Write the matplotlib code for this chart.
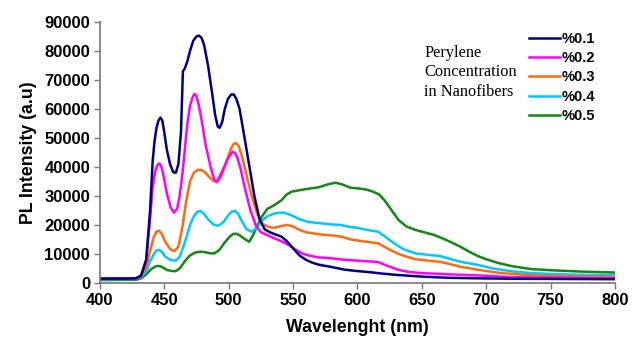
import numpy as np
import matplotlib
matplotlib.use("Agg")
import matplotlib.pyplot as plt
from matplotlib.lines import Line2D

# wavelength (nm) / intensity (a.u), one pair of lists per concentration
wl_01 = [400, 420, 428, 432, 436, 439, 441, 442.5, 444, 445.5, 447, 448.5, 450, 452, 454.5, 457, 459,
         461, 463, 464.5, 466, 468, 470, 472.5, 475, 477, 479, 481, 484, 487, 489.5, 491.5, 493, 495,
         497, 499.5, 502, 504, 506, 508.5, 512, 516, 520, 524, 528, 532, 536, 541, 545, 550, 555, 560,
         565, 570, 580, 590, 600, 610, 620, 630, 640, 650, 670, 694, 720, 750, 800]
pl_01 = [1500, 1500, 1600, 2500, 8000, 25000, 42000, 49000, 53500, 56000, 57000, 56000, 52000, 46000,
         41000, 38200, 38000, 41000, 52000, 73000, 74000, 76500, 80000, 83500, 85000, 85300, 84500, 82000,
         75000, 66000, 58000, 54000, 53500, 55500, 60000, 63500, 65000, 65000, 63500, 60000, 51000, 40500,
         30000, 22000, 18500, 17500, 16800, 16000, 14500, 12000, 9500, 8000, 7000, 6300, 5500, 4600, 4100,
         3700, 3200, 2800, 2500, 2200, 1800, 1600, 1450, 1400, 1300]

wl_02 = [400, 428, 432, 436, 439, 441, 443, 444.5, 446, 447.5, 449, 452, 455, 457.5, 460, 462, 464, 466,
         468, 470, 472, 473.5, 475, 477, 479.5, 482, 486, 489, 491, 494, 497, 499, 501, 503, 505, 507,
         509.5, 513, 517, 521, 525, 530, 535, 542, 547, 552, 557, 562, 570, 580, 590, 600, 610, 616, 624,
         632, 640, 650, 670, 694, 720, 750, 800]
pl_02 = [1500, 1600, 2500, 8000, 22000, 33000, 38500, 40500, 41200, 40500, 38000, 31000, 26000, 24300,
         25500, 30000, 37000, 46000, 55000, 61000, 64000, 65200, 64500, 61000, 55000, 48000, 40000, 35500,
         35000, 37500, 40500, 42500, 44000, 45200, 44800, 43000, 39000, 32000, 25000, 20000, 17500, 16500,
         15500, 14200, 13000, 11500, 10200, 9500, 8800, 8500, 8000, 7700, 7400, 7200, 5800, 4500, 3800,
         3400, 3000, 2600, 2000, 1800, 1600]

wl_03 = [400, 428, 432, 436, 439, 442, 444, 446, 448, 451, 455, 458, 461, 464, 467, 470, 473, 476, 479,
         482, 486, 489, 491, 494, 497, 500, 502, 504, 506, 508, 510.5, 514, 518, 522, 526, 530, 535, 540,
         545, 550, 555, 560, 570, 580, 587, 595, 605, 616, 625, 632, 638, 645, 655, 664, 672, 680, 694,
         710, 730, 750, 775, 800]
pl_03 = [1500, 1600, 2300, 5500, 11000, 16000, 17700, 18000, 17000, 14000, 11500, 11000, 12500, 19000,
         28000, 35000, 38000, 39000, 39000, 38000, 36000, 35000, 34700, 36500, 40000, 44000, 46500, 48000,
         48200, 47000, 43500, 37000, 30000, 24000, 20500, 19500, 19000, 19500, 20000, 19500, 18300, 17500,
         16800, 16400, 16000, 15000, 14300, 13700, 11500, 10000, 9100, 8200, 7700, 7300, 6500, 5600, 4500,
         3500, 2800, 2400, 2200, 2100]

wl_04 = [400, 428, 432, 436, 439, 442, 444, 446, 448, 451, 455, 459, 462, 466, 470, 473, 475.5, 478,
         480.5, 484, 488, 492, 496, 500, 502.5, 505, 507.5, 510, 514, 518, 522, 526, 530, 536, 542, 548,
         555, 562, 571, 580, 587, 593, 600, 607, 616, 623, 630, 636, 645, 655, 664, 672, 680, 694, 705,
         720, 735, 750, 775, 800]
pl_04 = [1300, 1400, 2000, 4000, 7500, 10000, 11200, 11400, 10800, 9000, 7900, 7700, 9000, 14000, 20000,
         23000, 24500, 24800, 24000, 22000, 20200, 19700, 21000, 23500, 24600, 24800, 23800, 21500, 18500,
         17700, 19000, 21500, 23000, 24000, 24300, 23500, 22000, 21000, 20600, 20200, 20000, 19400, 19000,
         18300, 17700, 15500, 13200, 11600, 10200, 9700, 9300, 8300, 7300, 6200, 5000, 4000, 3400, 3100,
         2800, 2700]

wl_05 = [400, 428, 432, 436, 440, 443, 445, 448, 452, 456, 459, 462, 466, 470, 474, 478, 482, 486, 489,
         493, 497, 501, 503.5, 506, 509, 513, 516, 519, 522, 526, 530, 536, 541, 545, 549, 555, 562, 570,
         577, 583, 588, 595, 601, 607, 612, 617, 622, 627, 632, 638, 645, 650, 660, 667, 672, 680, 688,
         694, 700, 710, 720, 735, 750, 775, 800]
pl_05 = [1000, 1100, 1600, 3000, 4800, 5700, 5900, 5600, 4500, 4100, 4100, 5000, 7500, 9500, 10500,
         10800, 10600, 10200, 10200, 11500, 14000, 16000, 16900, 17000, 16300, 15000, 14200, 16500, 19500,
         23000, 25500, 27000, 28500, 30500, 31500, 32000, 32500, 33000, 34000, 34600, 34000, 32800, 32600,
         32200, 31500, 30500, 28000, 24800, 21700, 19500, 18300, 17700, 16500, 15200, 14200, 12500, 10500,
         9200, 8200, 6800, 5800, 4800, 4400, 3900, 3600]

labels = ["%0.1", "%0.2", "%0.3", "%0.4", "%0.5"]
colors = ["#000080", "#FF00FF", "#FF6A10", "#00C8FF", "#118811"]
series = [(wl_01, pl_01), (wl_02, pl_02), (wl_03, pl_03), (wl_04, pl_04), (wl_05, pl_05)]

fig = plt.figure(figsize=(6.32, 3.43), dpi=100)
ax = fig.add_axes([0.158, 0.175, 0.815, 0.761])

# later series drawn first so the 0.1 curve sits on top, like the original
for (x, y), c in reversed(list(zip(series, colors))):
    ax.plot(x, y, color=c, lw=1.8, solid_joinstyle="round")

ax.set_xlim(400, 800)
ax.set_ylim(0, 90000)
ax.set_xticks(np.arange(400, 801, 50))
ax.set_yticks(np.arange(0, 90001, 10000))

tick_font = {"family": "Liberation Sans", "weight": "bold", "size": 12}
ax.set_xticklabels([str(v) for v in range(400, 801, 50)], fontdict=tick_font)
ax.set_yticklabels([str(v) for v in range(0, 90001, 10000)], fontdict=tick_font)

for s in ["top", "right"]:
    ax.spines[s].set_visible(False)
for s in ["left", "bottom"]:
    ax.spines[s].set_color("#777777")
    ax.spines[s].set_linewidth(1.2)
ax.tick_params(direction="out", length=4, width=1, color="#777777", pad=3)

label_font = {"family": "Liberation Sans", "weight": "bold", "size": 12.8}
ax.set_xlabel("Wavelenght (nm)", fontdict=label_font, labelpad=8)
ax.set_ylabel("PL Intensity (a.u)", fontdict=label_font, labelpad=5)

handles = [Line2D([0], [0], color=c, lw=1.8) for c in colors]
leg = ax.legend(handles, labels, loc="upper left", bbox_to_anchor=(0.808, 1.012),
                frameon=False, handlelength=2.1, handletextpad=0.1, labelspacing=0.36,
                prop={"family": "Liberation Sans", "weight": "bold", "size": 10.5})

fig.text(0.671, 0.87, "Perylene\nConcentration\nin Nanofibers", family="Liberation Serif",
         size=11.8, va="top", ha="left", linespacing=1.3)

fig.savefig("out.png", dpi=100)
